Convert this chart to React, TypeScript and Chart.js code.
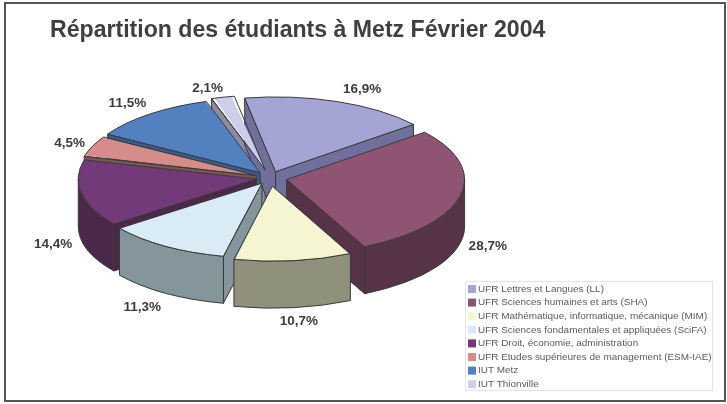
import React, { useEffect, useRef } from "react";
import { Chart, registerables } from "chart.js";

Chart.register(...registerables);

const TITLE = "Répartition des étudiants à Metz Février 2004";
const categories = [
  "UFR Lettres et Langues (LL)",
  "UFR Sciences humaines et arts (SHA)",
  "UFR Mathématique, informatique, mécanique (MIM)",
  "UFR Sciences fondamentales et appliquées (SciFA)",
  "UFR Droit, économie, administration",
  "UFR Etudes supérieures de management (ESM-IAE)",
  "IUT Metz",
  "IUT Thionville",
];
const shares = [16.9, 28.7, 10.7, 11.3, 14.4, 4.5, 11.5, 2.1];
const valueLabels = ["16,9%", "28,7%", "10,7%", "11,3%", "14,4%", "4,5%", "11,5%", "2,1%"];
const topColors = ["#A5A5D5", "#8F5374", "#F5F5D2", "#D9EBF5", "#723A78", "#D68C8A", "#5381BF", "#CECEEA"];
const wallColors = ["#716F9C", "#573348", "#90917C", "#84969B", "#4B2848", "#7E5352", "#3D5B88", "#8B8BA5"];
const explode = [16, 17, 20, 15, 14, 15, 16, 20];
const labelNudgeX = [14, -2, 2, -7, 1, 5, -4, -8];
const labelNudgeY = [-1, 1, 1, 4, 2, 2, -1, 3];

const SQUASH = 0.42;
const DEPTH = 47;
const RADIUS = 178;
const CENTER_Y = 178;
const LABEL_GAP = 30;
const LINE = "#3a3a3a";
const FONT = '"Liberation Sans", Arial, sans-serif';

const sliceGeometry = (arc: any) => {
  const off = (arc.options.offset || 0) / 4;
  const mid = (arc.startAngle + arc.endAngle) / 2;
  return {
    off,
    mid,
    cx: arc.x + Math.cos(mid) * off,
    cy: CENTER_Y + Math.sin(mid) * off * SQUASH,
  };
};

const pie3d = {
  id: "pie3d",
  beforeDraw(chart: any) {
    const { ctx, width, height } = chart;
    ctx.save();
    ctx.fillStyle = "#ffffff";
    ctx.fillRect(0, 0, width, height);
    ctx.strokeStyle = "#555555";
    ctx.lineWidth = 2;
    ctx.strokeRect(5, 3, 720, 398);
    ctx.fillStyle = "#404040";
    ctx.font = `bold 23.1px ${FONT}`;
    ctx.textBaseline = "alphabetic";
    ctx.fillText(TITLE, 50, 37);
    ctx.restore();
  },
  beforeDatasetsDraw(chart: any) {
    const { ctx } = chart;
    const arcs = chart.getDatasetMeta(0).data;
    const order = arcs
      .map((arc: any, i: number) => ({ arc, i }))
      .sort((a: any, b: any) => Math.sin(sliceGeometry(a.arc).mid) - Math.sin(sliceGeometry(b.arc).mid));

    ctx.save();
    ctx.lineWidth = 1;
    ctx.strokeStyle = LINE;
    ctx.lineJoin = "round";
    for (const { arc, i } of order) {
      const g = sliceGeometry(arc);
      const r = RADIUS;
      const ry = r * SQUASH;
      ctx.fillStyle = wallColors[i];
      const edge = (a: number) => {
        ctx.beginPath();
        ctx.moveTo(g.cx, g.cy);
        ctx.lineTo(g.cx + Math.cos(a) * r, g.cy + Math.sin(a) * ry);
        ctx.lineTo(g.cx + Math.cos(a) * r, g.cy + Math.sin(a) * ry + DEPTH);
        ctx.lineTo(g.cx, g.cy + DEPTH);
        ctx.closePath();
        ctx.fill();
        ctx.stroke();
      };
      if (Math.cos(arc.startAngle) < 0) edge(arc.startAngle);
      if (Math.cos(arc.endAngle) > 0) edge(arc.endAngle);
      for (const k of [-1, 0, 1]) {
        const a0 = Math.max(arc.startAngle, k * 2 * Math.PI);
        const a1 = Math.min(arc.endAngle, k * 2 * Math.PI + Math.PI);
        if (a1 <= a0) continue;
        ctx.beginPath();
        ctx.ellipse(g.cx, g.cy, r, ry, 0, a0, a1);
        ctx.ellipse(g.cx, g.cy + DEPTH, r, ry, 0, a1, a0, true);
        ctx.closePath();
        ctx.fill();
        ctx.stroke();
      }
    }
    ctx.restore();

    // Chart.js grows an offset arc's radius; cancel it so every slice keeps one radius.
    for (const arc of arcs) {
      const off = (arc.options.offset || 0) / 4;
      const fix = 1 - Math.sin(Math.min(Math.PI, arc.circumference));
      arc.outerRadius = RADIUS - off * fix;
    }
    ctx.save();
    ctx.translate(0, CENTER_Y);
    ctx.scale(1, SQUASH);
    ctx.translate(0, -chart.getDatasetMeta(0).data[0].y);
  },
  afterDatasetsDraw(chart: any) {
    const { ctx } = chart;
    ctx.restore();
    const arcs = chart.getDatasetMeta(0).data;

    ctx.save();
    ctx.lineWidth = 1;
    ctx.strokeStyle = LINE;
    ctx.lineJoin = "round";
    for (const arc of arcs) {
      const g = sliceGeometry(arc);
      ctx.beginPath();
      ctx.moveTo(g.cx, g.cy);
      ctx.ellipse(g.cx, g.cy, RADIUS, RADIUS * SQUASH, 0, arc.startAngle, arc.endAngle);
      ctx.closePath();
      ctx.stroke();
    }

    ctx.fillStyle = "#3c3c3c";
    ctx.font = `bold 13.5px ${FONT}`;
    ctx.textAlign = "center";
    ctx.textBaseline = "middle";
    arcs.forEach((arc: any, i: number) => {
      const g = sliceGeometry(arc);
      const rr = RADIUS + g.off + LABEL_GAP;
      const s = Math.sin(g.mid);
      const x = arc.x + Math.cos(g.mid) * rr + labelNudgeX[i];
      const y = CENTER_Y + s * rr * SQUASH + (s > 0 ? DEPTH : 0) + labelNudgeY[i];
      ctx.fillText(valueLabels[i], x, y);
    });

    // Legend
    ctx.fillStyle = "#ffffff";
    ctx.strokeStyle = "#e4e4e4";
    ctx.fillRect(465.5, 281.5, 247, 109);
    ctx.strokeRect(465.5, 281.5, 247, 109);
    ctx.font = `9.95px ${FONT}`;
    ctx.textAlign = "left";
    ctx.textBaseline = "middle";
    categories.forEach((label, i) => {
      const y = 289 + i * 13.6;
      ctx.fillStyle = topColors[i];
      ctx.fillRect(468, y - 4, 8, 8);
      ctx.fillStyle = "#5a5a5a";
      ctx.fillText(label, 478, y);
    });
    ctx.restore();
  },
};

export default function App() {
  const ref = useRef<HTMLCanvasElement | null>(null);
  useEffect(() => {
    document.body.style.margin = "0";
    const chart = new Chart(ref.current as HTMLCanvasElement, {
      type: "pie",
      data: {
        labels: categories,
        datasets: [
          {
            data: shares,
            backgroundColor: topColors,
            borderWidth: 0,
            offset: explode.map((v) => v * 4),
            clip: false,
          } as any,
        ],
      },
      options: {
        responsive: false,
        animation: false,
        rotation: -10,
        radius: RADIUS,
        layout: { padding: { left: 0, top: 0, bottom: 0, right: 187 } },
        plugins: { legend: { display: false }, title: { display: false }, tooltip: { enabled: false } },
      } as any,
      plugins: [pie3d],
    });
    return () => chart.destroy();
  }, []);
  return <canvas ref={ref} width={727} height={404} style={{ display: "block" }} />;
}
